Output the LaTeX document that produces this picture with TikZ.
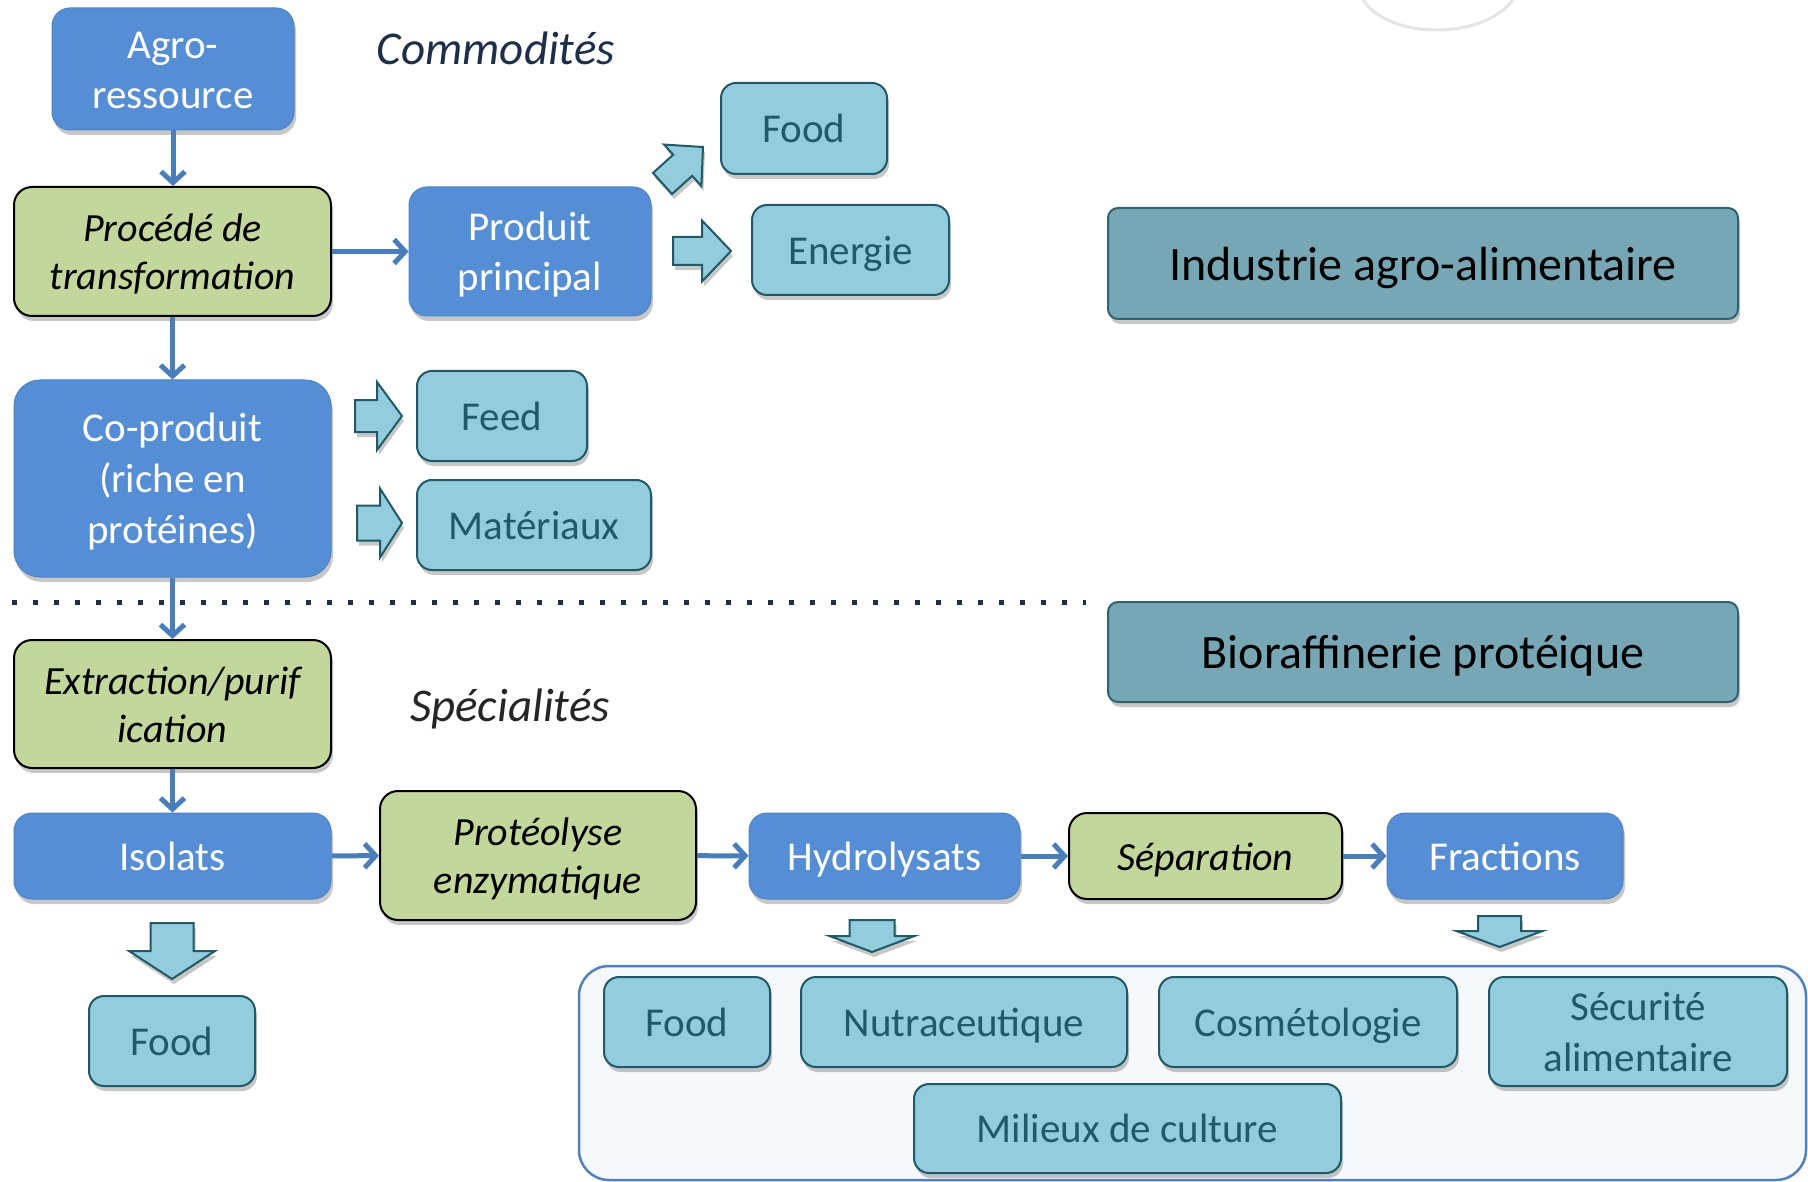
\documentclass[tikz,border=0pt]{standalone}
\usepackage{fontspec}
\setmainfont{Carlito}
\usetikzlibrary{arrows.meta,shadows}
\definecolor{boxblue}{HTML}{558ED5}
\definecolor{boxgreen}{HTML}{C3D69B}
\definecolor{lblue}{HTML}{93CDDD}
\definecolor{lbdark}{HTML}{215968}
\definecolor{tealfill}{HTML}{77A6B4}
\definecolor{tealdark}{HTML}{31626F}
\definecolor{connblue}{HTML}{4A7EBB}
\definecolor{navytext}{HTML}{1C2E4A}
\definecolor{conttext}{HTML}{262626}
\definecolor{contline}{HTML}{4F81BD}
\definecolor{contfill}{HTML}{F7F8FB}
% fixed line strut so that baselines do not depend on descenders
\newcommand\sv{\rule[-0.25em]{0pt}{1.2em}}
\newcommand\blockarr[8]{\draw[barrowst] [shift={(#2,#3)}, rotate=#4]
  ({-#5/2},{-#6}) -- ({#5/2-#8},{-#6}) -- ({#5/2-#8},{-#7}) -- ({#5/2},0)
  -- ({#5/2-#8},{#7}) -- ({#5/2-#8},{#6}) -- ({-#5/2},{#6}) -- cycle;
  \coordinate (#1) at (#2,#3);}
\begin{document}
\begin{tikzpicture}[x=1pt,y=-1pt,
 shad/.style={drop shadow={shadow xshift=2pt,shadow yshift=-5pt,opacity=0.22,fill=black}},
 bluebox/.style={shad, draw=boxblue!92!black, line width=1pt, fill=boxblue, text=white, rounded corners=18pt, inner sep=0pt, align=center, font=\fontsize{41}{50}\selectfont},
 greenbox/.style={shad, draw=black, line width=2pt, fill=boxgreen, text=black, rounded corners=18pt, inner sep=0pt, align=center, font=\fontsize{40}{48}\selectfont\itshape},
 lbbox/.style={shad, draw=lbdark, line width=2pt, fill=lblue, text=lbdark, rounded corners=15pt, inner sep=0pt, align=center, font=\fontsize{41}{51}\selectfont},
 tealbox/.style={shad, draw=tealdark, line width=2pt, fill=tealfill, text=black, rounded corners=10pt, inner sep=0pt, align=center, font=\fontsize{48}{58}\selectfont},
 contbox/.style={draw=contline, line width=2.5pt, fill=contfill, rounded corners=30pt, inner sep=0pt},
 conn/.style={draw=connblue, line width=5pt, -{Straight Barb[length=11pt,width=24pt]}},
 barrowst/.style={shad, draw=lbdark, line width=2pt, fill=lblue, line join=miter},
 heading/.style={inner sep=0pt, font=\fontsize{47}{54}\selectfont\itshape},
]
\useasboundingbox (0,0) rectangle (1808,1182);
% faint arc at top right
\draw[color=gray!20, line width=3pt] (1363,0) .. controls (1390,40) and (1483,40) .. (1513,0);

% headings
\node[heading, text=navytext] (comm) at (496,48) {Commodités};
\node[heading, text=conttext] (spec) at (510,709) {Spécialités};

% upper part
\node[bluebox, minimum width=242pt, minimum height=122pt] (agro) at (173,69) {\sv Agro-\\ressource\sv};
\node[greenbox, minimum width=317pt, minimum height=129pt] (proc) at (172.5,251.5) {\sv Procédé de\\transformation\sv};
\node[bluebox, minimum width=242pt, minimum height=129pt] (prod) at (530,251.5) {\sv Produit\\principal\sv};
\node[lbbox, minimum width=166pt, minimum height=91pt] (food1) at (804,128.5) {\sv Food};
\node[lbbox, minimum width=197pt, minimum height=90pt] (ener) at (850.5,250) {\sv Energie};
\node[tealbox, minimum width=630pt, minimum height=111pt] (iaa) at (1423,263.5) {\sv Industrie agro-alimentaire};
\node[bluebox, rounded corners=26pt, minimum width=317pt, minimum height=197pt, font=\fontsize{41}{51}\selectfont] (cop) at (172.5,478.5) {\sv Co-produit\\(riche en\\protéines)\sv};
\node[lbbox, minimum width=170pt, minimum height=90pt] (feed) at (502,416) {\sv Feed};
\node[lbbox, minimum width=234pt, minimum height=90pt] (mat) at (534,525) {\sv Matériaux};

% separator
\coordinate (dl1) at (12,602);
\coordinate (dl2) at (1086,602);
\draw[navytext, line width=5pt, dash pattern=on 5pt off 16pt] (dl1) -- (dl2);

\node[tealbox, minimum width=630pt, minimum height=100pt] (bio) at (1423,652) {\sv Bioraffinerie protéique};

% lower part
\node[greenbox, minimum width=317pt, minimum height=128pt] (extr) at (172.5,704) {\sv Extraction/purif\\ication\sv};
\node[bluebox, minimum width=317pt, minimum height=86pt] (iso) at (172.5,856) {\sv Isolats};
\node[greenbox, minimum width=316pt, minimum height=129pt] (prot) at (538,855.5) {\sv Protéolyse\\enzymatique\sv};
\node[bluebox, minimum width=271pt, minimum height=86pt] (hyd) at (884.5,856) {\sv Hydrolysats};
\node[greenbox, minimum width=273pt, minimum height=86pt] (sep) at (1205.5,856) {\sv Séparation};
\node[bluebox, minimum width=236pt, minimum height=86pt] (frac) at (1505,856) {\sv Fractions};
\node[lbbox, minimum width=166pt, minimum height=90pt] (food3) at (172,1041) {\sv Food};

\node[contbox, minimum width=1227pt, minimum height=214pt] (cont) at (1192.5,1073) {};
\node[lbbox, minimum width=166pt, minimum height=90pt] (food2) at (687,1022) {\sv Food};
\node[lbbox, minimum width=326pt, minimum height=90pt] (nutra) at (964,1022) {\sv Nutraceutique};
\node[lbbox, minimum width=298pt, minimum height=90pt] (cosm) at (1308,1022) {\sv Cosmétologie};
\node[lbbox, minimum width=298pt, minimum height=109pt] (secu) at (1638,1031.5) {\sv Sécurité\\alimentaire\sv};
\node[lbbox, minimum width=427pt, minimum height=89pt] (mil) at (1127.5,1128.5) {\sv Milieux de culture};

% connectors
\draw[conn] (agro.south) -- (agro.south |- proc.north);
\draw[conn] (proc) -- (prod);
\draw[conn] (proc) -- (cop);
\draw[conn] (cop) -- (extr);
\draw[conn] (extr) -- (iso);
\draw[conn] (iso) -- (prot);
\draw[conn] (prot) -- (hyd);
\draw[conn] (hyd) -- (sep);
\draw[conn] (sep) -- (frac);

% block arrows
\blockarr{ba1}{682.75}{165.25}{42}{54.5}{14.2}{27.9}{27.3}
\blockarr{ba2}{702}{251}{0}{58}{14}{30.5}{29}
\blockarr{ba3}{378.5}{416}{0}{47}{16}{34}{25}
\blockarr{ba4}{379.5}{523}{0}{45}{17.5}{34.5}{22}
\blockarr{ba5}{172}{951}{-90}{56}{21.5}{43}{28}
\blockarr{ba6}{872}{936}{-90}{32}{22.5}{42.5}{16}
\blockarr{ba7}{1499.5}{931.5}{-90}{31}{21.5}{43}{16}
\end{tikzpicture}
\end{document}
